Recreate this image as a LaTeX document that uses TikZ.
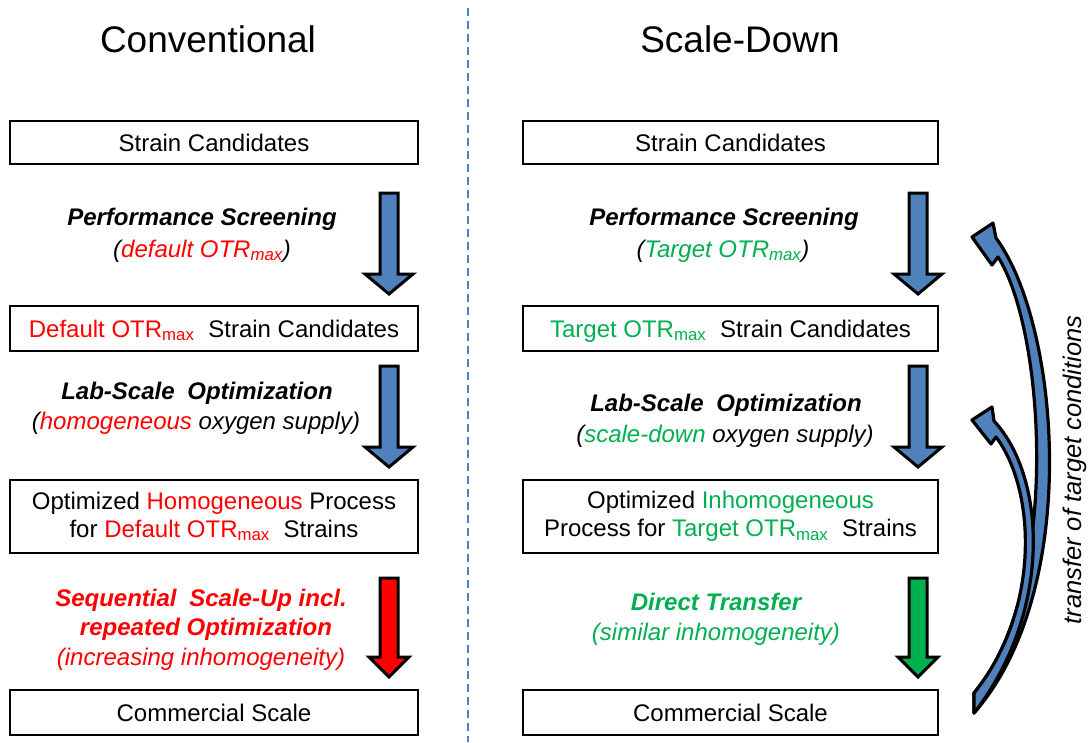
\documentclass[tikz,border=0pt]{standalone}
\usepackage{fontspec}
\setmainfont{Liberation Sans}
\definecolor{myred}{RGB}{255,0,0}
\definecolor{mygreen}{RGB}{0,176,80}
\definecolor{myblue}{RGB}{79,129,189}
\newcommand\mx{\textsubscript{max}}
\newcommand\fs{\fontsize{24}{28}\selectfont}
% block arrow: centre x, top y, tip y, fill colour, half width of head
\newcommand\barrow[5]{%
  \filldraw[blockarrow, fill=#4]
    ({#1-9},#2) -- ({#1+9},#2) -- ({#1+9},{#3-20}) -- ({#1+#5},{#3-20})
    -- (#1,#3) -- ({#1-#5},{#3-20}) -- ({#1-9},{#3-20}) -- cycle;}
\tikzset{
  box/.style={draw=black, line width=1.5pt, inner sep=0pt, align=center, font=\fs},
  one/.style={text height=17.2pt, text depth=0pt},
  lbl/.style={anchor=base, inner sep=0pt, font=\fs\bfseries\itshape},
  sub/.style={anchor=base, inner sep=0pt, font=\fs\itshape},
  title/.style={inner sep=0pt, font=\fontsize{37}{44}\selectfont},
  blockarrow/.style={draw=black, line width=3pt, line join=miter},
  curvarrow/.style={draw=black, line width=3.2pt, line join=round, fill=myblue},
  divider/.style={draw=myblue, line width=1.5pt, dash pattern=on 8pt off 5pt}
}
\begin{document}
\begin{tikzpicture}[x=1pt,y=-1pt]
\useasboundingbox[fill=white] (0,0) rectangle (1089,742);

% divider
\coordinate (dtop) at (468,8);
\coordinate (dbot) at (468,742);
\draw[divider] (dtop) -- (dbot);

% titles
\node[title] (tl) at (208,39) {Conventional};
\node[title] (tr) at (740,39) {Scale-Down};

% left column boxes
\node[box, one, minimum width=408pt, minimum height=43pt] (L1) at (214,142.5) {Strain Candidates};
\node[box, one, minimum width=408pt, minimum height=45pt] (L2) at (214,328.5)
  {\textcolor{myred}{Default OTR\mx}\hspace{0.3em} Strain Candidates};
\node[box, minimum width=408pt, minimum height=73pt] (L3) at (214,516.5)
  {Optimized \textcolor{myred}{Homogeneous} Process\\for \textcolor{myred}{Default OTR\mx}\hspace{0.3em} Strains};
\node[box, one, minimum width=408pt, minimum height=45pt] (L4) at (214,712.5) {Commercial Scale};

% right column boxes
\node[box, one, minimum width=415pt, minimum height=43pt] (R1) at (730.5,142.5) {Strain Candidates};
\node[box, one, minimum width=415pt, minimum height=45pt] (R2) at (730.5,328.5)
  {\textcolor{mygreen}{Target OTR\mx}\hspace{0.3em} Strain Candidates};
\node[box, minimum width=415pt, minimum height=73pt] (R3) at (730.5,516.5)
  {Optimized \textcolor{mygreen}{Inhomogeneous}\\Process for \textcolor{mygreen}{Target OTR\mx}\hspace{0.3em} Strains};
\node[box, one, minimum width=415pt, minimum height=45pt] (R4) at (730.5,712.5) {Commercial Scale};

% left labels
\node[lbl] (la1) at (202,225.5) {Performance Screening};
\node[sub] (la2) at (202,257) {(\textcolor{myred}{default OTR\mx})};
\node[lbl] (lb1) at (197,399) {Lab-Scale\hspace{0.25em} Optimization};
\node[sub] (lb2) at (196,429) {(\textcolor{myred}{homogeneous} oxygen supply)};
\node[lbl, text=myred] (lc1) at (201,606) {Sequential\hspace{0.25em} Scale-Up incl.};
\node[lbl, text=myred] (lc2) at (206,635) {repeated Optimization};
\node[sub, text=myred] (lc3) at (201,665) {(increasing inhomogeneity)};

% right labels
\node[lbl] (ra1) at (724,225.5) {Performance Screening};
\node[sub] (ra2) at (723,257) {(\textcolor{mygreen}{Target OTR\mx})};
\node[lbl] (rb1) at (726,411) {Lab-Scale\hspace{0.25em} Optimization};
\node[sub] (rb2) at (725,442) {(\textcolor{mygreen}{scale-down} oxygen supply)};
\node[lbl, text=mygreen] (rc1) at (716,610) {Direct Transfer};
\node[sub, text=mygreen] (rc2) at (716,640) {(similar inhomogeneity)};

% block arrows
\barrow{389}{193}{294}{myblue}{24}
\barrow{389}{366}{467}{myblue}{24}
\barrow{389}{578}{677}{myred}{20}
\barrow{918}{193}{294}{myblue}{24}
\barrow{918}{366}{467}{myblue}{24}
\barrow{918}{578}{677}{mygreen}{20}

% curved arrows (transfer of target conditions)
\filldraw[curvarrow] (974,713) .. controls (1082,590) and (1060,325) .. (996,238)
  -- (993,223) -- (972,237) -- (992,265) -- (998,257)
  .. controls (1045,330) and (1062,590) .. (974,693) -- cycle;
\filldraw[curvarrow] (974,713) .. controls (1052,613) and (1047,478) .. (994,421)
  -- (992,407) -- (972,420) -- (991,444) -- (996,437)
  .. controls (1036,490) and (1041,610) .. (974,693) -- cycle;

\node[rotate=90, inner sep=0pt, font=\fontsize{25.5}{30}\selectfont\itshape] (tt) at (1075,470) {transfer of target conditions};
\end{tikzpicture}
\end{document}
